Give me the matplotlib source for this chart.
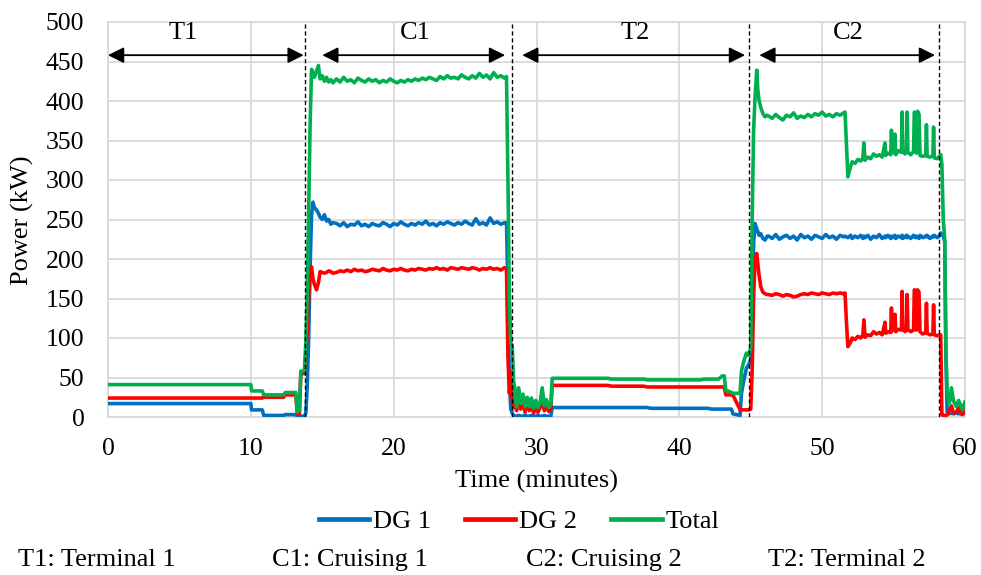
import numpy as np
import matplotlib
matplotlib.use("Agg")
import matplotlib.pyplot as plt

plt.rcParams['font.family'] = ['Liberation Serif', 'DejaVu Serif']

# ---------------- data ----------------
# Part A: T1 and the start of C1
time_a = [0, 5, 10.0, 10.05, 10.8, 10.9, 12.3, 12.4, 13.15, 13.25,
          13.4, 13.5, 13.75, 13.85, 13.95, 14.05, 14.15, 14.25, 14.35, 14.45,
          14.6, 14.73, 14.85, 15.0, 15.15, 15.3, 15.45, 15.6, 15.75]
dg1_a = [17, 17, 17, 9, 9, 2, 2, 3, 3, 1,
         1, 1, 1, 5, 40, 100, 190, 255, 272, 265,
         262, 258, 253, 250, 256, 248, 250, 244, 246]
dg2_a = [24, 24, 24, 24, 24, 25, 25, 28, 28, 4,
         4, 55, 55, 80, 110, 150, 185, 190, 175, 168,
         161, 170, 184, 183, 182, 183, 185, 184, 182]
tot_a = [41, 41, 41, 33, 33, 28, 28, 31, 31, 6,
         8, 58, 58, 95, 160, 260, 370, 440, 436, 430,
         438, 445, 428, 432, 425, 430, 424, 427, 423]

# Part B: C1 plateau, sampled every 0.25 min from 16.0 to 27.75
time_b = list(np.arange(16.0, 27.76, 0.25))
dg1_b = [245, 242, 246, 241, 244, 243, 247, 242, 244, 241,
         245, 243, 242, 246, 244, 241, 245, 243, 247, 244,
         242, 245, 243, 246, 244, 248, 243, 245, 242, 246,
         244, 247, 245, 243, 246, 244, 248, 245, 243, 251,
         244, 246, 243, 252, 245, 247, 244, 246]
dg2_b = [183, 185, 184, 186, 184, 187, 185, 186, 184, 185,
         187, 186, 185, 188, 186, 185, 187, 186, 188, 186,
         185, 187, 186, 188, 187, 186, 188, 187, 189, 187,
         188, 186, 189, 188, 187, 189, 188, 187, 189, 188,
         186, 188, 187, 189, 187, 188, 186, 189]
tot_b = [428, 424, 430, 425, 427, 423, 429, 426, 424, 428,
         425, 427, 423, 426, 424, 428, 425, 423, 426, 424,
         427, 425, 428, 426, 429, 427, 430, 428, 426, 431,
         428, 432, 429, 430, 428, 433, 430, 428, 432, 429,
         435, 430, 433, 428, 436, 430, 432, 429]

# Part C: end of C1, start of T2
time_c = [27.9, 28.0, 28.1, 28.2, 28.3, 28.4, 28.5, 28.6, 28.75, 28.9,
          29.05, 29.2, 29.35, 29.5, 29.65, 29.8, 29.95, 30.1, 30.25, 30.4,
          30.55, 30.7, 30.85, 31.0, 31.1]
dg1_c = [246, 160, 43, 10, 5, 2, 1, 1, 2, 1,
         1, 2, 1, 1, 2, 1, 1, 2, 1, 1,
         2, 1, 1, 1, 12]
dg2_c = [187, 76, 30, 58, 20, 12, 22, 8, 25, 10,
         20, 6, 18, 8, 15, 5, 14, 6, 12, 20,
         8, 16, 7, 10, 40]
tot_c = [431, 300, 150, 94, 90, 45, 33, 13, 37, 17,
         29, 13, 25, 13, 24, 11, 21, 12, 18, 37,
         14, 22, 12, 15, 49]

# Part D: T2 plateau, every 0.25 min from 31.25 to 43.0
time_d = list(np.arange(31.25, 43.01, 0.25))
dg1_d = [12, 12, 12, 12, 12, 12, 12, 12, 12, 12,
         12, 12, 12, 12, 12, 12, 12, 12, 12, 12,
         12, 12, 12, 12, 12, 12, 12, 11, 11, 11,
         11, 11, 11, 11, 11, 11, 11, 11, 11, 11,
         11, 11, 11, 11, 10, 10, 10, 10]
dg2_d = [40, 40, 40, 40, 40, 40, 40, 40, 40, 40,
         40, 40, 40, 40, 40, 40, 39, 39, 39, 39,
         39, 39, 39, 39, 39, 39, 38, 38, 38, 38,
         38, 38, 38, 38, 38, 38, 38, 38, 38, 38,
         38, 38, 38, 38, 38, 38, 38, 38]
tot_d = [49, 49, 49, 49, 49, 49, 49, 49, 49, 49,
         49, 49, 49, 49, 49, 49, 48, 48, 48, 48,
         48, 48, 48, 48, 48, 48, 47, 47, 47, 47,
         47, 47, 47, 47, 47, 47, 47, 47, 47, 47,
         47, 47, 48, 48, 48, 48, 48, 52]

# Part E: end of T2, start of C2
time_e = [43.15, 43.25, 43.65, 43.75, 44.25, 44.35, 44.5, 44.7, 44.85, 45.0,
          45.1, 45.2, 45.3, 45.42, 45.49, 45.58, 45.7, 45.85, 46.0, 46.15]
dg1_e = [10, 10, 10, 4, 2, 30, 45, 62, 66, 72,
         120, 220, 245, 238, 235, 230, 232, 226, 224, 229]
dg2_e = [38, 28, 28, 28, 9, 9, 9, 9, 9, 10,
         60, 150, 200, 207, 195, 180, 165, 158, 156, 155]
tot_e = [52, 34, 31, 30, 30, 58, 70, 81, 78, 88,
         250, 363, 404, 439, 415, 401, 392, 384, 380, 382]

# Part F: first C2 plateau, every 0.25 min from 46.25 to 51.5
time_f = list(np.arange(46.25, 51.51, 0.25))
dg1_f = [229, 226, 231, 225, 228, 230, 226, 229, 224, 231,
         227, 229, 225, 230, 228, 226, 231, 227, 229, 225,
         230, 228]
dg2_f = [155, 154, 156, 155, 153, 155, 154, 152, 153, 155,
         156, 155, 157, 156, 155, 157, 156, 155, 157, 156,
         157, 156]
tot_f = [381, 378, 383, 379, 376, 382, 380, 385, 378, 381,
         379, 383, 380, 384, 382, 386, 381, 383, 380, 384,
         382, 385]

# Part G: second C2 plateau with spikes and the final shutdown
time_g = [51.6, 51.7, 51.8, 52.0, 52.1, 52.3, 52.5, 52.7, 52.85, 52.92,
          53.0, 53.2, 53.4, 53.6, 53.8, 54.0, 54.2, 54.4, 54.45, 54.6,
          54.8, 54.85, 54.9, 55.1, 55.15, 55.35, 55.55, 55.6, 55.65, 55.8,
          55.9, 55.95, 56.0, 56.2, 56.4, 56.45, 56.55, 56.6, 56.68, 56.78,
          56.85, 57.05, 57.25, 57.3, 57.35, 57.55, 57.75, 57.8, 57.85, 58.05,
          58.2, 58.3, 58.38, 58.48, 58.58, 58.66, 58.75, 58.9, 59.05, 59.2,
          59.4, 59.55, 59.7, 59.82, 60.0]
dg1_g = [229, 228, 227, 230, 226, 229, 227, 230, 226, 229,
         227, 230, 225, 229, 227, 231, 226, 229, 227, 230,
         226, 229, 227, 230, 226, 229, 227, 230, 226, 228,
         230, 227, 229, 226, 230, 228, 227, 229, 228, 226,
         230, 227, 229, 228, 230, 226, 229, 228, 230, 227,
         229, 233, 231, 230, 222, 80, 6, 4, 5, 4,
         5, 4, 5, 4, 5]
dg2_g = [157, 120, 89, 95, 100, 98, 102, 100, 104, 123,
         101, 104, 103, 108, 105, 107, 104, 120, 106, 108,
         107, 138, 109, 130, 108, 111, 110, 159, 112, 108,
         110, 155, 111, 108, 110, 161, 160, 110, 161, 158,
         108, 105, 107, 144, 106, 104, 105, 142, 104, 103,
         104, 104, 3, 2, 2, 1, 3, 8, 14, 5,
         6, 12, 4, 3, 12]
tot_g = [386, 345, 304, 318, 323, 321, 326, 324, 328, 347,
         325, 329, 327, 333, 330, 332, 329, 347, 331, 334,
         332, 363, 334, 358, 332, 337, 335, 386, 336, 333,
         336, 386, 335, 332, 336, 386, 385, 334, 387, 383,
         331, 330, 331, 370, 330, 329, 331, 367, 328, 327,
         330, 332, 320, 250, 225, 90, 30, 17, 37, 20,
         13, 21, 15, 9, 19]

time_min = np.concatenate([time_a, time_b, time_c, time_d, time_e, time_f, time_g])
dg1_kw = np.concatenate([dg1_a, dg1_b, dg1_c, dg1_d, dg1_e, dg1_f, dg1_g])
dg2_kw = np.concatenate([dg2_a, dg2_b, dg2_c, dg2_d, dg2_e, dg2_f, dg2_g])
total_kw = np.concatenate([tot_a, tot_b, tot_c, tot_d, tot_e, tot_f, tot_g])

# phase boundaries, arrows and labels
phase_bounds = [13.8, 28.3, 44.9, 58.2]
arrow_spans = [(0.0, 13.7), (15.0, 27.8), (29.0, 44.6), (45.6, 57.9)]
phase_labels = ["T1", "C1", "T2", "C2"]
phase_label_x = [5.25, 21.5, 36.9, 51.8]
notes = ["T1: Terminal 1", "C1: Cruising 1", "C2: Cruising 2", "T2: Terminal 2"]

# ---------------- figure ----------------
W, H = 981, 575
fig = plt.figure(figsize=(W / 100, H / 100), dpi=100)
ax = fig.add_axes([108 / W, 1 - 417 / H, 857 / W, 395 / H])

grid_c = "#d9d9d9"
ax.plot(time_min, dg1_kw, color="#0070C0", lw=2.6, label="DG 1", zorder=3)
ax.plot(time_min, dg2_kw, color="#FF0000", lw=2.6, label="DG 2", zorder=4)
ax.plot(time_min, total_kw, color="#00B050", lw=2.6, label="Total", zorder=5)

ax.set_xlim(0, 60)
ax.set_ylim(0, 500)
ax.set_xticks(np.arange(0, 61, 10))
ax.set_yticks(np.arange(0, 501, 50))
ax.grid(True, color=grid_c, lw=1.3, zorder=0)
ax.set_axisbelow(True)
for s in ax.spines.values():
    s.set_color(grid_c)
    s.set_linewidth(1.3)
ax.tick_params(length=0, labelsize=18.5)
ax.tick_params(axis="y", pad=17)
ax.tick_params(axis="x", pad=15)

fig.text(536.5 / W, 1 - 481 / H, "Time (minutes)", ha="center", va="center", fontsize=19)
fig.text(22 / W, 1 - 220 / H, "Power (kW)", ha="center", va="center",
         rotation=90, fontsize=19)

for xb in phase_bounds:
    ax.axvline(xb, color="black", ls=(0, (3, 2)), lw=1.0, zorder=6)

for (x0, x1), lab, lx in zip(arrow_spans, phase_labels, phase_label_x):
    ax.annotate("", xy=(x1, 458), xytext=(x0, 458),
                arrowprops=dict(arrowstyle="<|-|>", color="black", lw=1.3,
                                mutation_scale=24, shrinkA=0, shrinkB=0),
                zorder=7)
    ax.text(lx, 486, lab, ha="center", va="center", fontsize=19, zorder=7)

leg = fig.legend(loc="center", bbox_to_anchor=(519 / W, 1 - 521 / H), ncol=3,
                 frameon=False, fontsize=19, handlelength=1.9,
                 handletextpad=0.15, columnspacing=1.3)
for line in leg.get_lines():
    line.set_linewidth(3.4)

note_x = [18, 272, 526, 768]
for nx, t in zip(note_x, notes):
    fig.text(nx / W, 1 - 560 / H, t, ha="left", va="center", fontsize=19)

fig.savefig("out.png", dpi=100)
